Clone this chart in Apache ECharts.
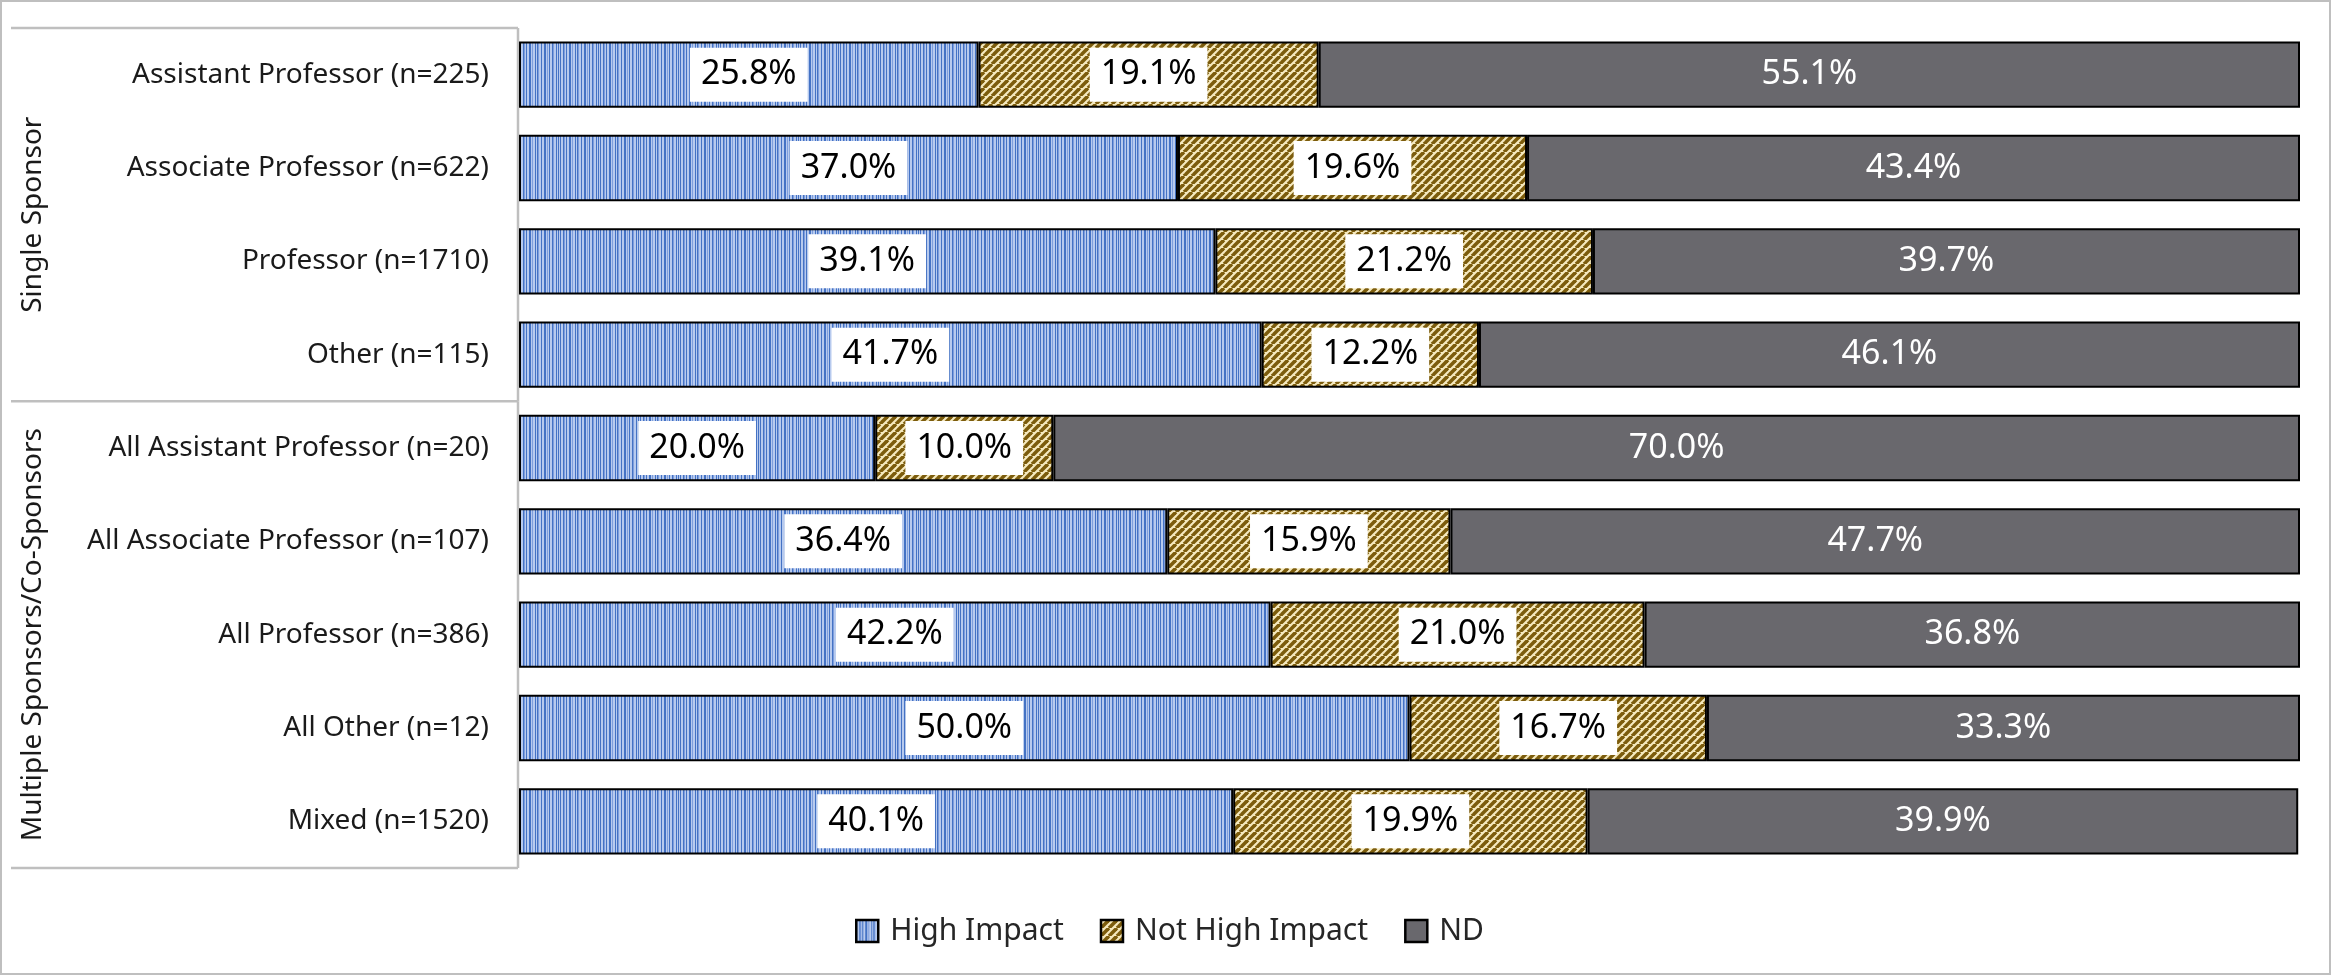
<!DOCTYPE html>
<html>
<head>
<meta charset="utf-8">
<style>
  html, body { margin: 0; padding: 0; background: #fff; }
  #chart { width: 2331px; height: 975px; }
</style>
<script src="https://cdn.jsdelivr.net/npm/echarts@6/dist/echarts.min.js"></script>
</head>
<body>
<div id="chart"></div>
<script>
// ---------- data ----------
const categories = [
  'Assistant Professor (n=225)',
  'Associate Professor (n=622)',
  'Professor (n=1710)',
  'Other (n=115)',
  'All Assistant Professor (n=20)',
  'All Associate Professor (n=107)',
  'All Professor (n=386)',
  'All Other (n=12)',
  'Mixed (n=1520)'
];
const seriesNames = ['High Impact', 'Not High Impact', 'ND'];
const highImpact    = [25.8, 37.0, 39.1, 41.7, 20.0, 36.4, 42.2, 50.0, 40.1];
const notHighImpact = [19.1, 19.6, 21.2, 12.2, 10.0, 15.9, 21.0, 16.7, 19.9];
const ndValues      = [55.1, 43.4, 39.7, 46.1, 70.0, 47.7, 36.8, 33.3, 39.9];
const groupNames = ['Single Sponsor', 'Multiple Sponsors/Co-Sponsors'];
const groupSizes = [4, 5];

// ---------- patterns (style) ----------
function bluePattern() {
  const seq = 'DLLDMLDLLDDLMLLDLDMLLDLLDDLMLDLLDMLLDLDL';
  const cols = { D: '#4472C4', L: '#B7CAEE', M: '#7E9EDD' };
  const c = document.createElement('canvas');
  c.width = seq.length; c.height = 4;
  const ctx = c.getContext('2d');
  for (let i = 0; i < seq.length; i++) {
    ctx.fillStyle = cols[seq[i]];
    ctx.fillRect(i, 0, 1, 4);
  }
  return { image: c, repeat: 'repeat' };
}
function goldPattern() {
  const s = 8;
  const c = document.createElement('canvas');
  c.width = s; c.height = s;
  const ctx = c.getContext('2d');
  ctx.fillStyle = '#F6EABF';
  ctx.fillRect(0, 0, s, s);
  ctx.strokeStyle = '#7C5C0C';
  ctx.lineWidth = 3.6;
  [-s, 0, s].forEach(function (o) {
    ctx.beginPath();
    ctx.moveTo(o, s);
    ctx.lineTo(o + s, 0);
    ctx.stroke();
  });
  return { image: c, repeat: 'repeat' };
}

const FONT = '"Noto Sans", "Open Sans", sans-serif';
const chart = echarts.init(document.getElementById('chart'), null, { renderer: 'canvas' });

function labelFmt(p) { return p.value.toFixed(1) + '%'; }
const boxLabel = {
  show: true, position: 'inside', formatter: labelFmt,
  fontFamily: FONT, fontSize: 34, color: '#000',
  backgroundColor: '#fff', padding: [6, 11], lineHeight: 42
};

const option = {
  animation: false,
  grid: { left: 519, right: 31, top: 28, bottom: 107 },
  xAxis: { type: 'value', min: 0, max: 100, show: false },
  yAxis: {
    type: 'category', data: categories, inverse: true,
    axisLine: { show: false }, axisTick: { show: false },
    axisLabel: { fontFamily: FONT, fontSize: 28, color: '#1a1a1a', margin: 30 }
  },
  legend: {
    data: seriesNames, left: 850, top: 911,
    itemWidth: 22, itemHeight: 22, itemGap: 36,
    itemStyle: { borderColor: '#000', borderWidth: 2.5 },
    textStyle: { fontFamily: FONT, fontSize: 30, color: '#262626', padding: [0, 0, 0, 7] },
    icon: 'rect'
  },
  series: [
    {
      name: seriesNames[0], type: 'bar', stack: 'total', data: highImpact,
      barCategoryGap: '29%',
      itemStyle: { color: bluePattern(), borderColor: '#000', borderWidth: 2 },
      label: boxLabel
    },
    {
      name: seriesNames[1], type: 'bar', stack: 'total', data: notHighImpact,
      barCategoryGap: '29%',
      itemStyle: { color: goldPattern(), borderColor: '#000', borderWidth: 2 },
      label: boxLabel
    },
    {
      name: seriesNames[2], type: 'bar', stack: 'total', data: ndValues,
      barCategoryGap: '29%',
      itemStyle: { color: '#69686D', borderColor: '#000', borderWidth: 2 },
      label: { show: true, position: 'inside', formatter: labelFmt,
               fontFamily: FONT, fontSize: 34, color: '#fff' }
    }
  ]
};
chart.setOption(option);

// ---------- multi-level category panel ----------
const y0 = chart.convertToPixel({ yAxisIndex: 0 }, 0);
const y1 = chart.convertToPixel({ yAxisIndex: 0 }, 1);
const band = y1 - y0;
const xLeft = chart.convertToPixel({ xAxisIndex: 0 }, 0);
const lineStyle = { stroke: '#BFBFBF', lineWidth: 2.5 };
const graphics = [];
graphics.push({ type: 'rect', shape: { x: 1, y: 1, width: 2329, height: 973 },
  style: { fill: 'none', stroke: '#BFBFBF', lineWidth: 2 }, silent: true });
let idx = 0;
const topY = y0 - band / 2;
graphics.push({ type: 'line', shape: { x1: 11, y1: topY, x2: xLeft - 1, y2: topY }, style: lineStyle });
groupNames.forEach(function (g, gi) {
  const startY = y0 + (idx - 0.5) * band;
  idx += groupSizes[gi];
  const endY = y0 + (idx - 0.5) * band;
  graphics.push({ type: 'line', shape: { x1: 11, y1: endY, x2: xLeft - 1, y2: endY }, style: lineStyle });
  graphics.push({ type: 'line', shape: { x1: xLeft - 1, y1: startY, x2: xLeft - 1, y2: endY }, style: lineStyle });
  graphics.push({
    type: 'text', x: 33, y: (startY + endY) / 2, rotation: Math.PI / 2,
    style: { text: g, fontFamily: FONT, fontSize: 28, fill: '#1a1a1a',
             textAlign: 'center', textVerticalAlign: 'middle' }
  });
});
chart.setOption({ graphic: graphics });
</script>
</body>
</html>
